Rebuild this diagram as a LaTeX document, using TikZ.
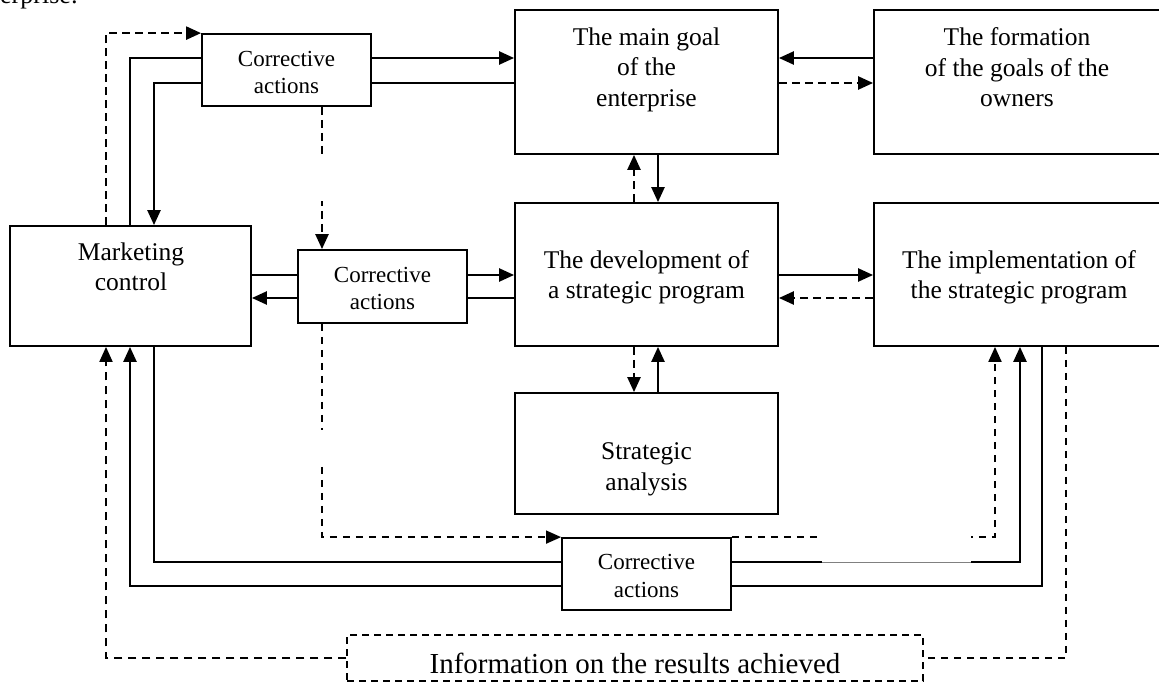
\documentclass[tikz,border=0pt]{standalone}
\usepackage{fontspec}
\setmainfont{Liberation Serif}
\usetikzlibrary{arrows.meta,calc}
\tikzset{
  box/.style={draw, line width=1.8pt, inner sep=0pt, fill=white},
  ibox/.style={draw, line width=1.3pt, dash pattern=on 7pt off 5pt, inner sep=0pt},
  lbl/.style={font=\fontsize{25.5}{30.5}\selectfont, align=center, inner sep=0pt},
  calbl/.style={font=\fontsize{23}{27.5}\selectfont, align=center, inner sep=0pt},
  headtip/.style={-{Triangle[length=15pt,width=13pt]}},
  solidarrow/.style={line width=2.4pt, headtip},
  plainline/.style={line width=1.6pt},
  dasharrow/.style={line width=2.4pt, dash pattern=on 8pt off 5pt, headtip},
  thindash/.style={line width=1.4pt, dash pattern=on 7pt off 6pt},
}
\begin{document}
\begin{tikzpicture}[x=1pt,y=-1pt]
\useasboundingbox (0,0) rectangle (1159,682);
\clip (0,0) rectangle (1159,682);
% caption fragment
\node[font=\fontsize{26}{30}\selectfont, anchor=base west, inner sep=0pt] (cap) at (0,4) {erprise:};
% boxes
\node[box, minimum width=169pt, minimum height=72pt] (ca1) at (286.5,70) {};
\node[box, minimum width=263pt, minimum height=144pt] (mg) at (646.5,82) {};
\node[box, minimum width=287pt, minimum height=144pt] (fo) at (1017.5,82) {};
\node[box, minimum width=241pt, minimum height=120pt] (mc) at (130.5,286) {};
\node[box, minimum width=169pt, minimum height=73pt] (ca2) at (382.5,286.5) {};
\node[box, minimum width=263pt, minimum height=143pt] (dev) at (646.5,274.5) {};
\node[box, minimum width=287pt, minimum height=143pt] (im) at (1017.5,274.5) {};
\node[box, minimum width=263pt, minimum height=121pt] (sa) at (646.5,453.5) {};
\node[box, minimum width=169pt, minimum height=72pt] (ca3) at (646.5,574) {};
\node[ibox, minimum width=576pt, minimum height=46pt] (info) at (635,658) {};
% texts
\node[calbl] (ca1t) at (286.5,72.5) {Corrective\\actions};
\node[lbl] (mgt) at (646.5,69.4) {The main goal\\of the\\enterprise};
\node[lbl] (fot) at (1017,67.5) {The formation\\of the goals of the\\owners};
\node[lbl] (mct) at (131,267) {Marketing\\control};
\node[calbl] (ca2t) at (382.5,288.5) {Corrective\\actions};
\node[lbl] (devt) at (646.5,277.4) {The development of\\a strategic program};
\node[lbl] (imt) at (1019,277.4) {The implementation of\\the strategic program};
\node[lbl] (sat) at (646.5,469.4) {Strategic\\analysis};
\node[calbl] (ca3t) at (646.5,576) {Corrective\\actions};
\node[font=\fontsize{29}{33}\selectfont, anchor=base, inner sep=0pt] (infot) at (635,673) {Information on the results achieved};
% helper levels
\coordinate (xa) at (106,0);
\coordinate (xb) at (130,0);
\coordinate (xc) at (154,0);
\coordinate (xd) at (322,0);
\coordinate (xe) at (634,0);
\coordinate (xf) at (658,0);
\coordinate (xg) at (995,0);
\coordinate (xh) at (1020,0);
\coordinate (xi) at (1042,0);
\coordinate (xj) at (1066,0);
\coordinate (ya) at (0,58);
\coordinate (yb) at (0,83);
\coordinate (yc) at (0,275);
\coordinate (yd) at (0,298);
\coordinate (ye) at (0,562);
\coordinate (yf) at (0,586);
% top left loop
\draw[dasharrow] (mc.north -| xa) |- (ca1.north west);
\draw[plainline] (mc.north -| xb) |- (ca1.west |- ya);
\draw[solidarrow] (ca1.west |- yb) -| (mc.north -| xc);
\draw[solidarrow] (ca1.east |- ya) -- (mg.west |- ya);
\draw[plainline] (ca1.east |- yb) -- (mg.west |- yb);
% main goal / formation
\draw[solidarrow] (fo.west |- ya) -- (mg.east |- ya);
\draw[dasharrow] (mg.east |- yb) -- (fo.west |- yb);
% main goal / development
\draw[dasharrow] (dev.north -| xe) -- (mg.south -| xe);
\draw[solidarrow] (mg.south -| xf) -- (dev.north -| xf);
% ca1 -> ca2
\draw[dasharrow] (ca1.south -| xd) -- (ca2.north -| xd);
% middle row
\draw[plainline] (mc.east |- yc) -- (ca2.west |- yc);
\draw[solidarrow] (ca2.west |- yd) -- (mc.east |- yd);
\draw[solidarrow] (ca2.east |- yc) -- (dev.west |- yc);
\draw[plainline] (ca2.east |- yd) -- (dev.west |- yd);
\draw[solidarrow] (dev.east |- yc) -- (im.west |- yc);
\draw[dasharrow] (im.west |- yd) -- (dev.east |- yd);
% development / strategic analysis
\draw[dasharrow] (dev.south -| xe) -- (sa.north -| xe);
\draw[solidarrow] (sa.north -| xf) -- (dev.south -| xf);
% ca2 -> ca3
\draw[thindash, headtip] (ca2.south -| xd) |- (ca3.north west);
% ca3 -> implementation
\draw[line width=1.9pt, dash pattern=on 7pt off 6pt, headtip] (ca3.north east) -| (im.south -| xg);
\draw[solidarrow] (ca3.east |- ye) -| (im.south -| xh);
\draw[plainline] (im.south -| xi) |- (ca3.east |- yf);
% ca3 -> marketing control
\draw[solidarrow] (ca3.west |- yf) -| (mc.south -| xb);
\draw[plainline] (mc.south -| xc) |- (ca3.west |- ye);
% information loop
\draw[thindash] (im.south -| xj) |- (info.east);
\draw[line width=1.9pt, dash pattern=on 8pt off 6pt, headtip] (info.west) -| (mc.south -| xa);
% gaps visible in the reference
\fill[white] (314,154) rectangle (330,201);
\fill[white] (314,430) rectangle (330,466);
\fill[white] (822,529) rectangle (971,567);
\draw[gray, line width=0.8pt] (822,562) -- (971,562);
\end{tikzpicture}
\end{document}
